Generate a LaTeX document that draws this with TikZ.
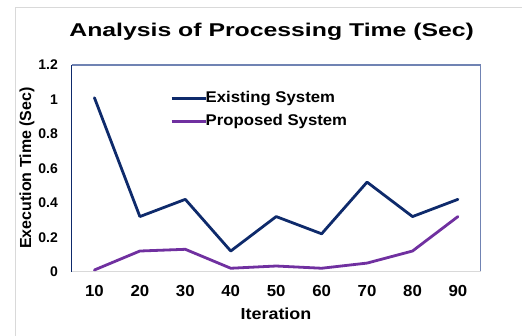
\documentclass[tikz,border=0pt]{standalone}
\usepackage{fontspec}
\setmainfont{Liberation Sans}
\definecolor{exist}{HTML}{0E2A6B}
\definecolor{prop}{HTML}{7030A0}
\definecolor{frameblue}{HTML}{7083B3}
\definecolor{lightgrey}{HTML}{D9D9D9}
\tikzset{
  series/.style={line width=2.8pt, line join=round, line cap=round},
  ticklab/.style={font=\bfseries\fontsize{14}{16}\selectfont, inner sep=0pt},
  xticklab/.style={font=\bfseries\fontsize{16}{18}\selectfont, inner sep=0pt, xscale=1.05},
  axlab/.style={font=\bfseries\fontsize{16}{18}\selectfont, inner sep=0pt},
  leglab/.style={font=\bfseries\fontsize{15.5}{18}\selectfont, inner sep=0pt, anchor=west, xscale=1.08},
  titlelab/.style={font=\bfseries\fontsize{18.5}{21}\selectfont, inner sep=0pt, xscale=1.34}
}
\begin{document}
\begin{tikzpicture}[x=1pt,y=1pt]
\useasboundingbox (0,0) rectangle (522,336);
% outer chart frame (partial)
\draw[lightgrey, line width=1pt] (15,0) -- (15,328) -- (522,328);
% title
\node[titlelab] (title) at (271.7,304) {Analysis of Processing Time (Sec)};
% plot area
\coordinate (pbl) at (71.7,64.3);
\coordinate (ptl) at (71.7,271);
\coordinate (ptr) at (480.7,271);
\coordinate (pbr) at (480.7,64.3);
\draw[frameblue, line width=1.2pt] (ptl) -- (ptr) -- (pbr);
\draw[lightgrey, line width=1.2pt] (pbl) -- (pbr);
\draw[exist, line width=1.2pt] (pbl) -- (ptl);
% y tick labels
\foreach \v/\t in {0/0,0.2/0.2,0.4/0.4,0.6/0.6,0.8/0.8,1/1,1.2/1.2}{
  \node[ticklab, anchor=east] (yt\t) at (58,{64.3+172.25*\v}) {\t};
}
% x tick labels
\foreach \i/\t in {1/10,2/20,3/30,4/40,5/50,6/60,7/70,8/80,9/90}{
  \node[xticklab] (xt\t) at ({71.7+45.44*(\i-0.5)},45.3) {\t};
}
% axis titles
\node[axlab, xscale=1.12] (xlab) at (276,22) {Iteration};
\node[axlab, rotate=90] (ylab) at (27,168) {Execution Time (Sec)};
% data points
\foreach \i/\a/\b in {1/1.01/0.01,2/0.32/0.12,3/0.42/0.13,4/0.12/0.02,5/0.32/0.033,6/0.22/0.02,7/0.52/0.05,8/0.32/0.12,9/0.42/0.32}{
  \coordinate (e\i) at ({71.7+45.44*(\i-0.5)},{64.3+172.25*\a});
  \coordinate (p\i) at ({71.7+45.44*(\i-0.5)},{64.3+172.25*\b});
}
\draw[series, exist] (e1) -- (e2) -- (e3) -- (e4) -- (e5) -- (e6) -- (e7) -- (e8) -- (e9);
\draw[series, prop] (p1) -- (p2) -- (p3) -- (p4) -- (p5) -- (p6) -- (p7) -- (p8) -- (p9);
% legend
\coordinate (l1a) at (171.7,237.7);
\coordinate (l2a) at (171.7,214.3);
\node[leglab] (l1) at (205.5,237.7) {Existing System};
\node[leglab] (l2) at (205.5,214.3) {Proposed System};
\draw[exist, line width=2.8pt] (l1a) -- (l1.west);
\draw[prop, line width=2.8pt] (l2a) -- (l2.west);
\end{tikzpicture}
\end{document}
